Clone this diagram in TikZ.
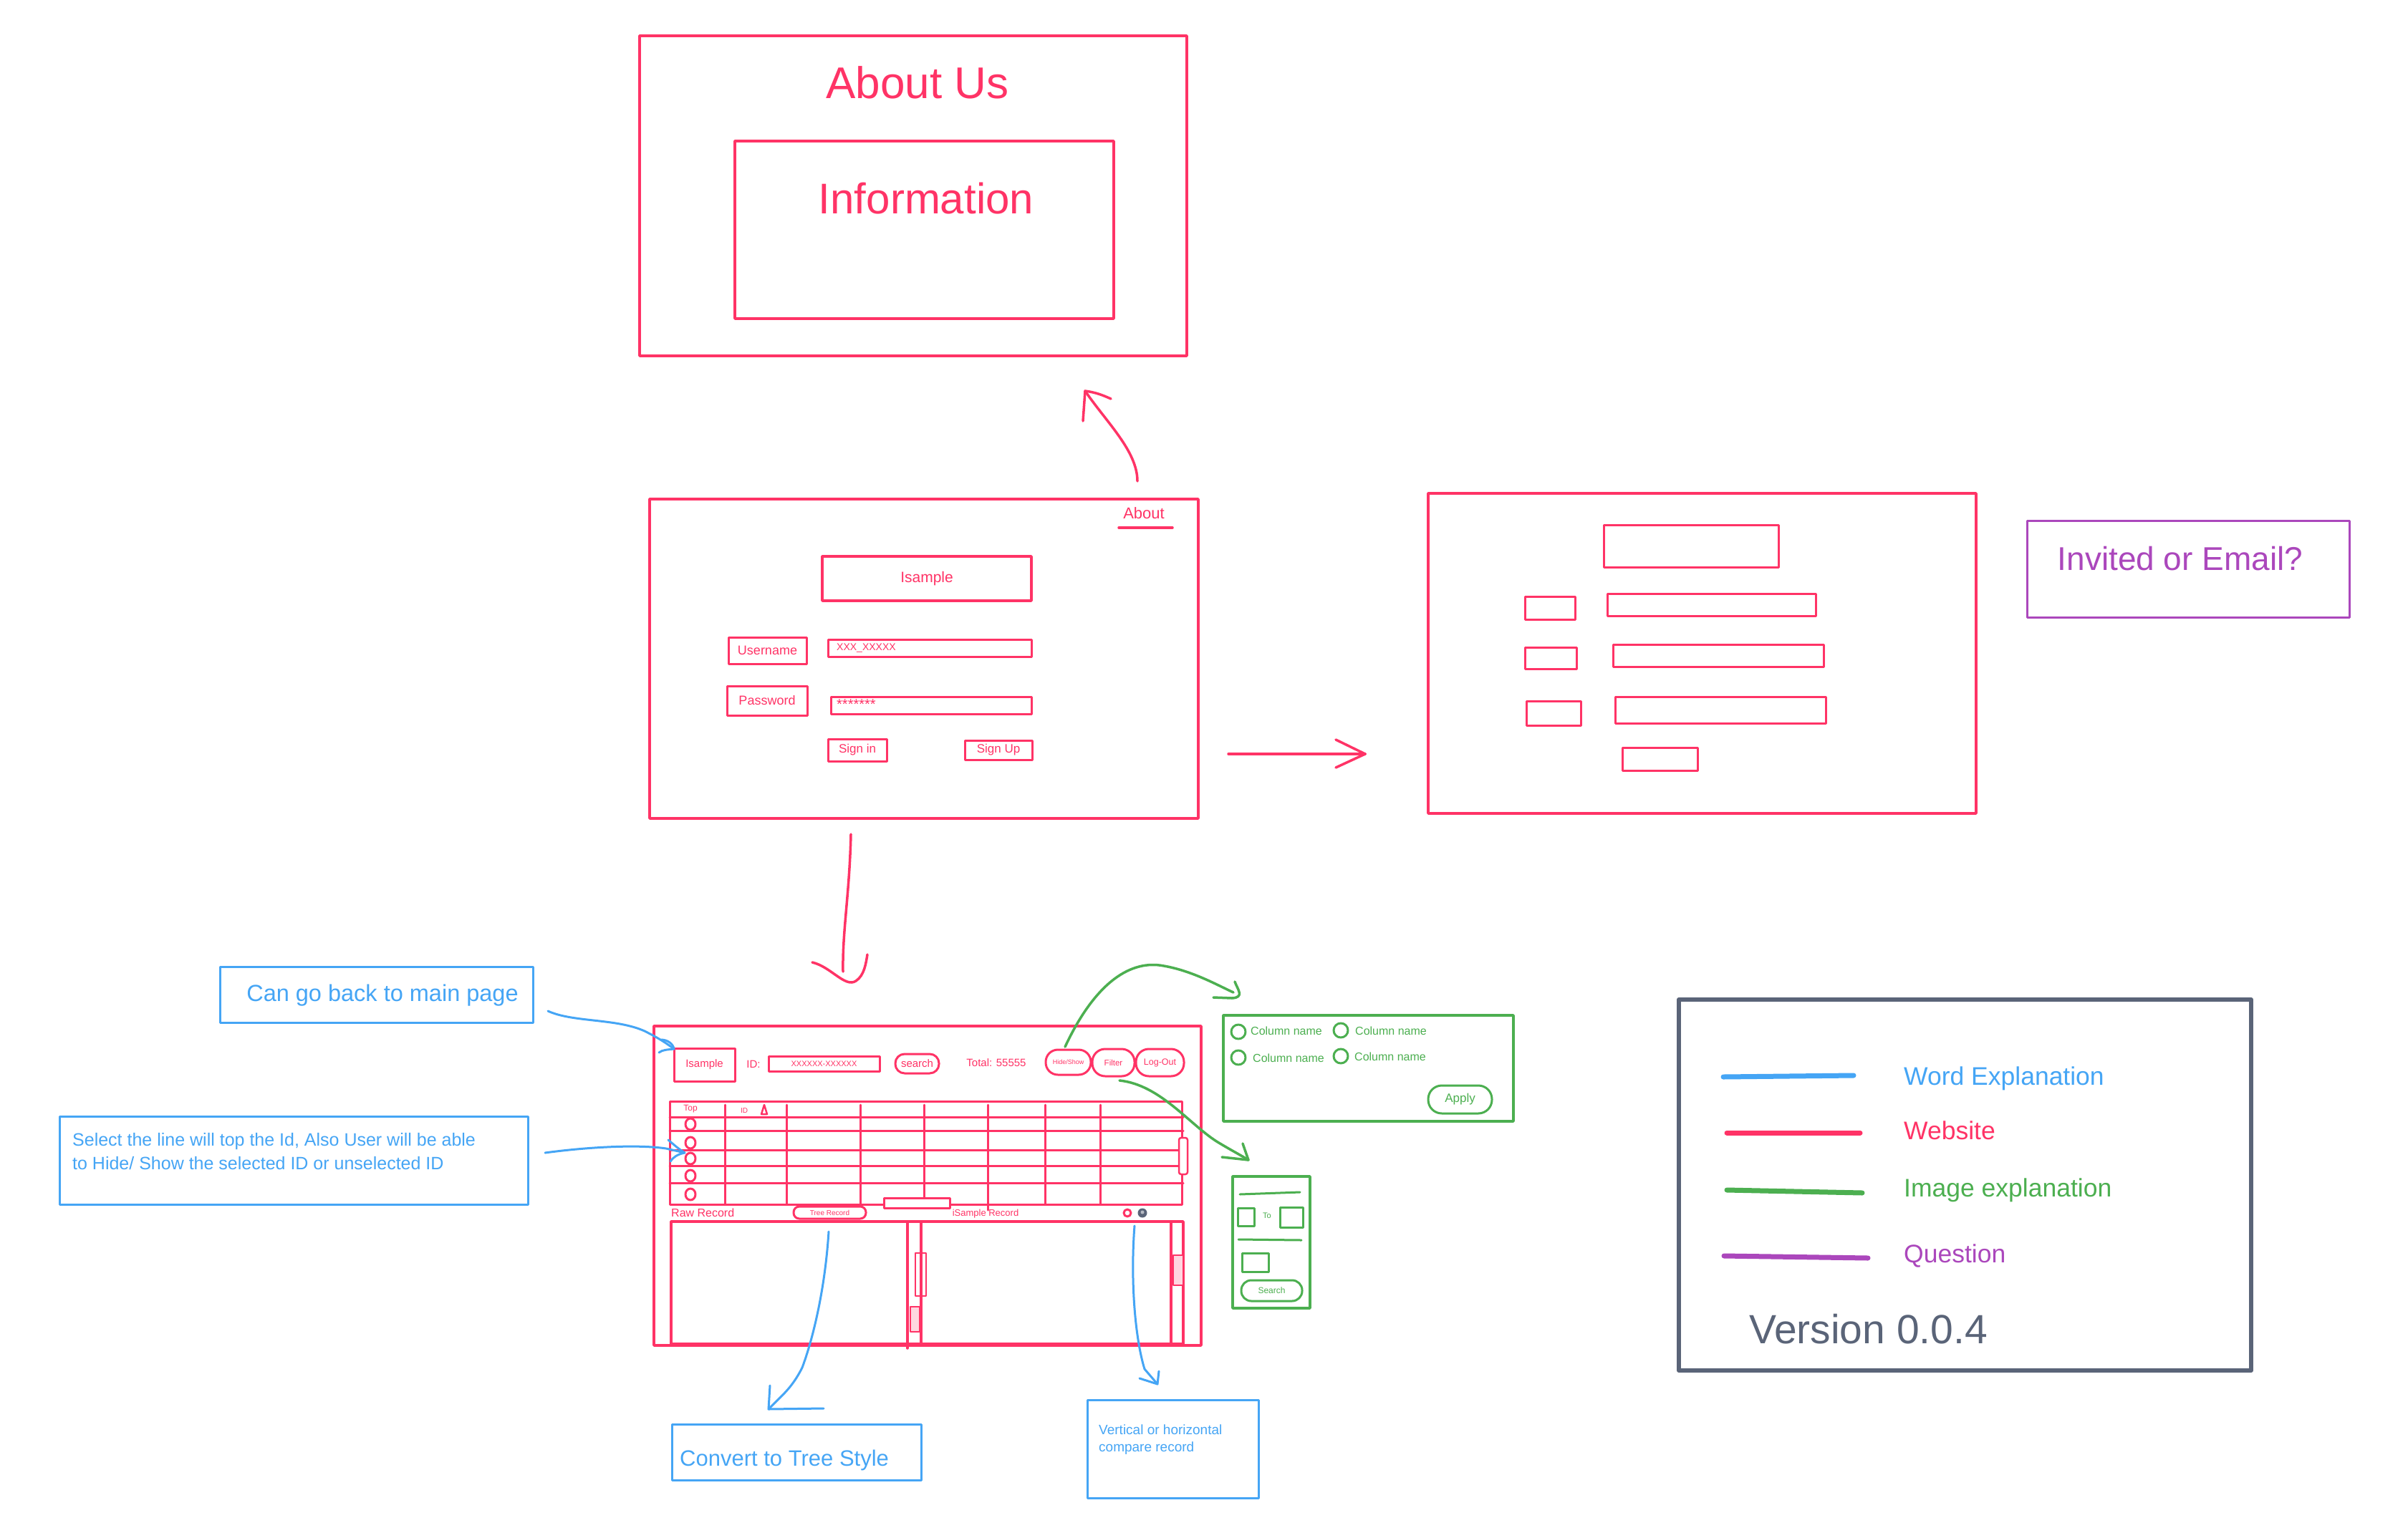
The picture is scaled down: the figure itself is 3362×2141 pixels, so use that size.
\documentclass[tikz,border=0pt]{standalone}
\usepackage{fontspec}
\setmainfont{Liberation Sans}
\definecolor{wred}{HTML}{FF3366}
\definecolor{wblue}{HTML}{45A5F5}
\definecolor{wgreen}{HTML}{4CAF50}
\definecolor{wpurple}{HTML}{AB47BC}
\definecolor{wgray}{HTML}{5A6478}
\newcommand\fsz[2]{\fontsize{#1}{#2}\selectfont}
% name, style, x1, y1, x2, y2, text
\newcommand\bx[7]{\node[#2, minimum width={(#5)-(#3)}, minimum height={(#6)-(#4)}] (#1) at ({((#3)+(#5))/2},{((#4)+(#6))/2}) {#7};}
\begin{document}
\begin{tikzpicture}[x=1pt,y=-1pt,line cap=round,line join=round,
 rb/.style={draw=wred,line width=3.5pt,inner sep=0pt,outer sep=0pt,text=wred},
 bb/.style={draw=wblue,line width=3.5pt,inner sep=0pt,outer sep=0pt,text=wblue},
 gb/.style={draw=wgreen,line width=3.5pt,inner sep=0pt,outer sep=0pt,text=wgreen},
 pb/.style={draw=wpurple,line width=3.5pt,inner sep=0pt,outer sep=0pt,text=wpurple},
 kb/.style={draw=wgray,line width=6pt,inner sep=0pt,outer sep=0pt},
 rt/.style={text=wred,inner sep=0pt},
 bt/.style={text=wblue,inner sep=0pt},
 gt/.style={text=wgreen,inner sep=0pt},
 rl/.style={draw=wred,line width=3.5pt},
 bl/.style={draw=wblue,line width=3pt},
 gl/.style={draw=wgreen,line width=3.5pt},
]
\fill[white] (0,0) rectangle (3362,2141);
\useasboundingbox (0,0) rectangle (3362,2141);

% ---------- About Us page ----------
\bx{aboutus}{rb}{893}{50}{1657}{497}{}
\node[rt,font=\fsz{62}{70}] (aboutusT) at (1281,115) {About Us};
\bx{info}{rb}{1026}{197}{1555}{445}{}
\node[rt,font=\fsz{60}{70}] (infoT) at (1293,277) {Information};

% ---------- Login page ----------
\bx{login}{rb}{907}{697}{1673}{1143}{}
\node[rt,font=\fsz{22}{26}] (aboutlink) at (1597,717) {About};
\draw[rl] (1562,737) -- (1637,737);
\bx{lisample}{rb,font=\fsz{21}{25}}{1148}{777}{1440}{839}{Isample}
\bx{lusr}{rb,line width=3pt,font=\fsz{18}{22}}{1017}{890}{1126}{927}{Username}
\bx{lusrf}{rb,line width=3pt}{1156}{893}{1440}{917}{}
\node[rt,font=\fsz{14}{16},anchor=west] (lusrT) at (1168,905) {XXX\_XXXXX};
\bx{lpwd}{rb,line width=3pt,font=\fsz{18}{22}}{1015}{958}{1127}{999}{Password}
\bx{lpwdf}{rb,line width=3pt}{1160}{973}{1440}{997}{}
\node[rt,font=\fsz{20}{22},anchor=west] (lpwdT) at (1168,984) {*******};
\bx{lsignin}{rb,line width=3pt,font=\fsz{17}{20}}{1156}{1032}{1238}{1063}{Sign in}
\bx{lsignup}{rb,line width=3pt,font=\fsz{17}{20}}{1347}{1034}{1441}{1061}{Sign Up}

% ---------- Sign up page ----------
\bx{signup}{rb}{1994}{689}{2759}{1136}{}
\bx{sutop}{rb,line width=3pt}{2239}{733}{2483}{792}{}
\bx{sul1}{rb,line width=3pt}{2129}{833}{2199}{865}{}
\bx{suf1}{rb,line width=3pt}{2244}{829}{2535}{860}{}
\bx{sul2}{rb,line width=3pt}{2129}{904}{2201}{934}{}
\bx{suf2}{rb,line width=3pt}{2252}{900}{2546}{931}{}
\bx{sul3}{rb,line width=3pt}{2131}{979}{2207}{1013}{}
\bx{suf3}{rb,line width=3pt}{2255}{973}{2549}{1010}{}
\bx{subtn}{rb,line width=3pt}{2265}{1044}{2370}{1076}{}

% ---------- Question ----------
\bx{invited}{pb,line width=3pt}{2830}{727}{3280}{862}{}
\node[text=wpurple,inner sep=0pt,font=\fsz{46}{52}] (invitedT) at (3044,780) {Invited or Email?};

% ---------- red arrows ----------
\coordinate (a1s) at (1588,672); \coordinate (a1e) at (1515,546);
\draw[rl] (a1s) .. controls (1588,630) and (1545,590) .. (a1e);
\draw[rl] (1512,588) -- (a1e) .. controls (1530,548) and (1540,552) .. (1551,557);

\coordinate (a2s) at (1715,1053); \coordinate (a2e) at (1906,1053);
\draw[rl] (a2s) -- (a2e);
\draw[rl] (1865,1033) -- (a2e) -- (1865,1072);

\coordinate (a3s) at (1188,1165); \coordinate (a3e) at (1195,1370);
\draw[rl] (a3s) .. controls (1186,1250) and (1176,1300) .. (1177,1357);
\draw[rl] (1134,1344) .. controls (1160,1350) and (1180,1380) .. (a3e) .. controls (1207,1362) and (1209,1345) .. (1211,1333);

% ---------- Main page ----------
\bx{main}{rb}{913}{1433}{1677}{1879}{}
\bx{misample}{rb,line width=3pt,font=\fsz{15}{18}}{941}{1464}{1026}{1510}{Isample}
\node[rt,font=\fsz{15}{18}] (mid) at (1052,1486) {ID:};
\bx{midf}{rb,line width=3pt,font=\fsz{11}{13}}{1073}{1475}{1228}{1496}{XXXXXX-XXXXXX}
\bx{msearch}{rb,line width=3pt,rounded corners=13pt,font=\fsz{15}{18}}{1250}{1472}{1311}{1499}{search}
\node[rt,font=\fsz{15}{18}] (mtotal) at (1391,1484) {Total: 55555};
\bx{mhide}{rb,line width=3pt,rounded corners=17pt,font=\fsz{9}{11}}{1460}{1466}{1523}{1501}{Hide/Show}
\bx{mfilter}{rb,line width=3pt,rounded corners=18pt,font=\fsz{11.5}{14}}{1525}{1465}{1584}{1503}{Filter}
\bx{mlogout}{rb,line width=3pt,rounded corners=18pt,font=\fsz{12.5}{15}}{1586}{1465}{1653}{1503}{Log-Out}

% table
\bx{tbl}{rb,line width=3pt}{935}{1538}{1650}{1682}{}
\foreach \yy in {1560,1579,1606,1628,1652} \draw[rl,line width=3pt] (935,\yy) -- (1652,\yy);
\foreach \xx in {1012,1098,1201,1290,1379,1459,1536} \draw[rl,line width=3pt] (\xx,1543) -- (\xx,1682);
\draw[rl,line width=3pt] (1379,1682) -- (1379,1690);
\node[rt,font=\fsz{12}{14}] (ttop) at (964,1549) {Top};
\node[rt,font=\fsz{10}{12}] (tid) at (1039,1551) {ID};
\draw[rl,line width=2.5pt] (1063,1556) -- (1067,1543) -- (1071,1556) -- cycle;
\foreach \yy in {1570,1596,1618,1642,1668} \draw[rl,line width=3pt] (964,\yy) ellipse [x radius=7, y radius=8];
\draw[rl,line width=2.5pt,rounded corners=3pt,fill=white] (1646,1589) rectangle (1658,1640);
\draw[rl,line width=3pt,fill=white] (1234,1673) rectangle (1326,1687);

% records
\node[rt,font=\fsz{16}{19},anchor=west] (rawrec) at (937,1694) {Raw Record};
\bx{treerec}{rb,line width=3pt,rounded corners=8pt,font=\fsz{10}{12}}{1108}{1685}{1209}{1702}{Tree Record}
\node[rt,font=\fsz{13}{15}] (isrec) at (1376,1695) {iSample Record};
\draw[rl,line width=3pt] (1574,1694) circle (5);
\fill[wgray] (1595,1694) circle (6.5);
\fill[wgray!45] (1595,1693) circle (2.5);
\bx{rawp}{rb}{937}{1706}{1286}{1877}{}
\bx{isp}{rb}{1286}{1706}{1652}{1877}{}
\draw[rl] (1267,1706) -- (1267,1883);
\draw[rl] (1635,1706) -- (1635,1877);
\draw[rl,line width=2.5pt] (1278,1750) rectangle (1293,1810);
\draw[rl,line width=2.5pt,fill=wred!20] (1271,1825) rectangle (1284,1860);
\draw[rl,line width=2.5pt,fill=wred!20] (1638,1753) rectangle (1652,1795);

% ---------- green arrows ----------
\coordinate (g1s) at (1487,1462); \coordinate (g1e) at (1730,1390);
\draw[gl] (g1s) .. controls (1530,1370) and (1580,1340) .. (1625,1349) .. controls (1665,1356) and (1700,1376) .. (1722,1386);
\draw[gl] (1724,1371) .. controls (1728,1382) and (1738,1393) .. (1720,1394) -- (1694,1393);

\coordinate (g2s) at (1563,1509); \coordinate (g2e) at (1743,1620);
\draw[gl] (g2s) .. controls (1620,1515) and (1660,1570) .. (1700,1595) .. controls (1720,1607) and (1730,1612) .. (g2e);
\draw[gl] (1706,1616) -- (g2e) -- (1735,1597);

% ---------- filter panel ----------
\bx{filterp}{gb}{1708}{1418}{2113}{1566}{}
\foreach \cx/\cy in {1729/1441,1872/1439,1729/1477,1872/1475} \draw[gl,line width=3pt] (\cx,\cy) circle (10);
\node[gt,font=\fsz{16}{19},anchor=west] (cn1) at (1746,1440) {Column name};
\node[gt,font=\fsz{16}{19},anchor=west] (cn2) at (1892,1440) {Column name};
\node[gt,font=\fsz{16}{19},anchor=west] (cn3) at (1749,1478) {Column name};
\node[gt,font=\fsz{16}{19},anchor=west] (cn4) at (1891,1476) {Column name};
\bx{apply}{gb,line width=3pt,rounded corners=19pt,font=\fsz{17}{20}}{1994}{1516}{2083}{1555}{Apply}

% ---------- search panel ----------
\bx{searchp}{gb}{1721}{1643}{1829}{1827}{}
\draw[gl,line width=3pt] (1731,1668) -- (1815,1665);
\bx{sp1}{gb,line width=3pt}{1728}{1687}{1751}{1712}{}
\node[gt,font=\fsz{11}{13}] (spto) at (1769,1698) {To};
\bx{sp2}{gb,line width=3pt}{1787}{1686}{1819}{1714}{}
\draw[gl,line width=3pt] (1729,1731) -- (1817,1732);
\bx{sp3}{gb,line width=3pt}{1734}{1750}{1771}{1776}{}
\bx{spbtn}{gb,line width=3pt,rounded corners=14pt,font=\fsz{12}{14}}{1733}{1788}{1818}{1817}{Search}

% ---------- blue notes ----------
\bx{cangoback}{bb,line width=3pt}{307}{1350}{744}{1428}{}
\node[bt,font=\fsz{32.5}{38},anchor=base] (cangobackT) at (534,1398) {Can go back to main page};
\bx{selectb}{bb,line width=3pt}{83}{1559}{737}{1682}{}
\node[bt,font=\fsz{25}{30},anchor=base west] (sel1) at (101,1600) {Select the line will top the Id, Also User will be able};
\node[bt,font=\fsz{25}{30},anchor=base west] (sel2) at (101,1633) {to Hide/ Show the selected ID or unselected ID};
\bx{convert}{bb,line width=3pt}{938}{1989}{1286}{2067}{}
\node[bt,font=\fsz{31}{37},anchor=base west] (convertT) at (949,2047) {Convert to Tree Style};
\bx{vertical}{bb,line width=3pt}{1518}{1955}{1757}{2092}{}
\node[bt,font=\fsz{19}{23},anchor=base west] (vert1) at (1534,2003) {Vertical or horizontal};
\node[bt,font=\fsz{19}{23},anchor=base west] (vert2) at (1534,2027) {compare record};

% ---------- blue connectors ----------
\coordinate (b1s) at (765,1412); \coordinate (b1e) at (941,1465);
\draw[bl] (b1s) .. controls (800,1428) and (860,1422) .. (900,1440) .. controls (920,1450) and (932,1458) .. (b1e);
\draw[bl] (923,1452) .. controls (932,1452) and (940,1458) .. (b1e) .. controls (932,1466) and (925,1466) .. (920,1470);

\coordinate (b2s) at (761,1610); \coordinate (b2e) at (956,1610);
\draw[bl] (b2s) .. controls (820,1602) and (890,1598) .. (930,1604) -- (b2e);
\draw[bl] (933,1592) .. controls (940,1598) and (948,1605) .. (b2e) .. controls (946,1612) and (940,1616) .. (936,1622);

\coordinate (b3s) at (1157,1720); \coordinate (b3e) at (1073,1968);
\draw[bl] (b3s) .. controls (1152,1800) and (1135,1870) .. (1120,1910) .. controls (1105,1940) and (1090,1950) .. (b3e);
\draw[bl] (1075,1935) -- (b3e) -- (1150,1967);

\coordinate (b4s) at (1584,1712); \coordinate (b4e) at (1616,1933);
\draw[bl] (b4s) .. controls (1578,1790) and (1585,1870) .. (1598,1912) -- (b4e);
\draw[bl] (1618,1915) -- (b4e) -- (1591,1925);

% ---------- legend ----------
\bx{legend}{kb}{2344}{1396}{3143}{1914}{}
\draw[bl,line width=7pt] (2406,1504) -- (2588,1502);
\draw[rl,line width=7pt] (2411,1582) -- (2597,1582);
\draw[gl,line width=7pt] (2411,1662) -- (2600,1666);
\draw[draw=wpurple,line width=7pt] (2407,1754) -- (2608,1757);
\node[bt,font=\fsz{35.5}{42},anchor=base west] (lg1) at (2658,1515) {Word Explanation};
\node[rt,font=\fsz{35.5}{42},anchor=base west] (lg2) at (2658,1591) {Website};
\node[gt,font=\fsz{35.5}{42},anchor=base west] (lg3) at (2658,1671) {Image explanation};
\node[text=wpurple,inner sep=0pt,font=\fsz{35.5}{42},anchor=base west] (lg4) at (2658,1763) {Question};
\node[text=wgray,inner sep=0pt,font=\fsz{57}{66},anchor=base west] (version) at (2442,1876) {Version 0.0.4};
\end{tikzpicture}
\end{document}
